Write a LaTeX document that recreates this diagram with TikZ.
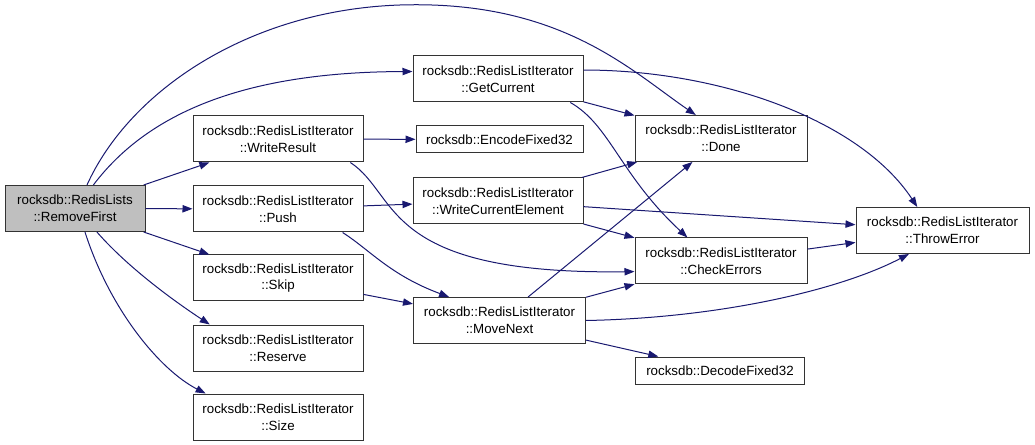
\documentclass[tikz,border=0pt]{standalone}
\usepackage{fontspec}
\setmainfont{Liberation Sans}
\usepackage{xcolor}
\usepackage{tikz}
\usetikzlibrary{arrows.meta, positioning}

\definecolor{edgeblue}{HTML}{191970}
\definecolor{rootgray}{HTML}{BFBFBF}

\begin{document}
\begin{tikzpicture}[
  x=0.75pt, y=-0.75pt,
  box/.style={draw=black!80, line width=0.75pt, inner sep=0pt,
              minimum width=127.5pt, minimum height=34.5pt,
              font=\fontsize{10}{12.5}\selectfont, align=center, fill=white},
  onebox/.style={box, minimum height=20.25pt},
  root/.style={box, fill=rootgray, minimum width=105pt},
  arr/.style={-{Triangle[length=7.5pt,width=5.5pt]}, edgeblue, line width=0.75pt},
]
\useasboundingbox (0,0) rectangle (1035,445);

\node[root] (rf) at (75,208.5) {rocksdb::RedisLists\\::RemoveFirst};

\node[box] (wr)   at (278,139) {rocksdb::RedisListIterator\\::WriteResult};
\node[box] (push) at (278,209) {rocksdb::RedisListIterator\\::Push};
\node[box] (skip) at (278,278) {rocksdb::RedisListIterator\\::Skip};
\node[box] (res)  at (278,348) {rocksdb::RedisListIterator\\::Reserve};
\node[box] (size) at (278,417) {rocksdb::RedisListIterator\\::Size};

\node[box] (gc)  at (498,79)    {rocksdb::RedisListIterator\\::GetCurrent};
\node[onebox, minimum width=125.25pt] (enc) at (499.5,139.5) {rocksdb::EncodeFixed32};
\node[box] (wce) at (498,201)   {rocksdb::RedisListIterator\\::WriteCurrentElement};
\node[box, minimum width=129pt] (mn) at (499.5,320.5) {rocksdb::RedisListIterator\\::MoveNext};

\node[box, minimum width=129pt] (done) at (721,138.5) {rocksdb::RedisListIterator\\::Done};
\node[box, minimum width=129pt] (ce)   at (721,261)   {rocksdb::RedisListIterator\\::CheckErrors};
\node[onebox, minimum width=126.75pt] (dec) at (720,370.5) {rocksdb::DecodeFixed32};

\node[box, minimum width=129.75pt] (te) at (942.5,230.5) {rocksdb::RedisListIterator\\::ThrowError};

\draw[arr] (rf.63) .. controls (130,90) and (250,10) .. (400,5)
                   .. controls (560,0) and (630,70) .. (done.137);
\draw[arr] (rf.52) .. controls (150,110) and (250,72) .. (gc.175);
\draw[arr] (rf) -- (wr);
\draw[arr] (rf) -- (push);
\draw[arr] (rf) -- (skip);
\draw[arr] (rf.-47) .. controls (130,270) and (180,305) .. (res.161);
\draw[arr] (rf.-67) .. controls (110,310) and (160,370) .. (size.162);

\draw[arr] (gc) -- (done);
\draw[arr] (gc.-18) .. controls (610,125) and (620,175) .. (ce.145);
\draw[arr] (gc.6) .. controls (720,70) and (860,120) .. (te.137);

\draw[arr] (wr) -- (enc);
\draw[arr] (wr.-18) .. controls (400,195) and (380,275) .. (ce.187);

\draw[arr] (push) -- (wce);
\draw[arr] (push.-20) .. controls (370,250) and (390,275) .. (mn.155);
\draw[arr] (skip) -- (mn);

\draw[arr] (wce) -- (done);
\draw[arr] (wce) -- (te);
\draw[arr] (wce) -- (ce);

\draw[arr] (mn) -- (done);
\draw[arr] (mn) -- (ce);
\draw[arr] (mn.0) .. controls (720,318) and (840,290) .. (te.215);
\draw[arr] (mn) -- (dec);

\draw[arr] (ce) -- (te);
\end{tikzpicture}
\end{document}
